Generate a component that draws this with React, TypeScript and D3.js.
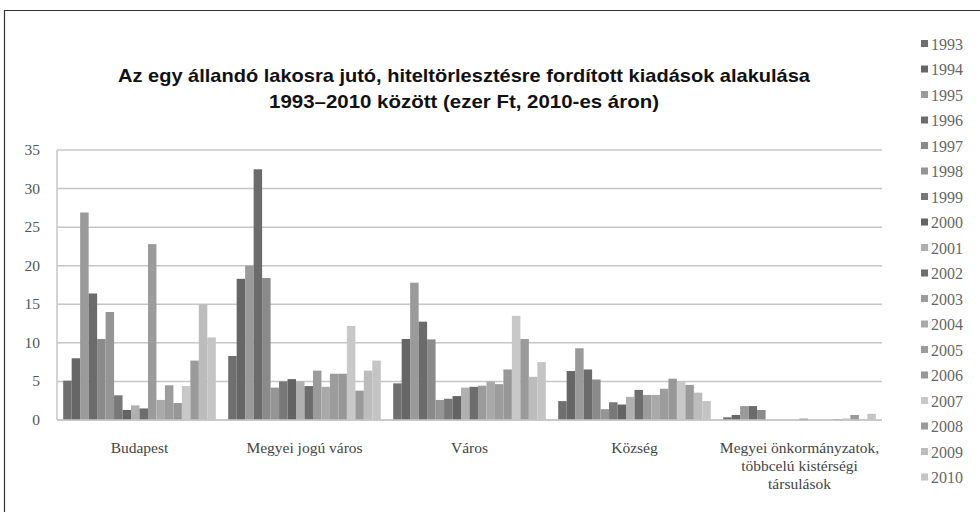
import * as d3 from "d3";
import React from "react";

const categories = [
  ["Budapest"],
  ["Megyei jogú város"],
  ["Város"],
  ["Község"],
  ["Megyei önkormányzatok,", "többcelú kistérségi", "társulások"],
];

const years = [
  "1993", "1994", "1995", "1996", "1997", "1998", "1999", "2000", "2001",
  "2002", "2003", "2004", "2005", "2006", "2007", "2008", "2009", "2010",
];

const yearColors = [
  "#6f6f6f", "#666666", "#9a9a9a", "#6b6b6b", "#8a8a8a", "#959595",
  "#787878", "#636363", "#b0b0b0", "#6d6d6d", "#9b9b9b", "#a9a9a9",
  "#9c9c9c", "#979797", "#c8c8c8", "#9a9a9a", "#bcbcbc", "#c4c4c4",
];

// values per category, one per year 1993..2010
const budapest = [5.1, 8.0, 26.9, 16.4, 10.5, 14.0, 3.2, 1.3, 1.9, 1.5, 22.8, 2.6, 4.5, 2.2, 4.4, 7.7, 15.0, 10.7];
const megyeiJogu = [8.3, 18.3, 20.0, 32.5, 18.4, 4.2, 5.0, 5.3, 5.0, 4.4, 6.4, 4.3, 6.0, 6.0, 12.2, 3.8, 6.4, 7.7];
const varos = [4.75, 10.5, 17.8, 12.75, 10.45, 2.6, 2.75, 3.1, 4.2, 4.3, 4.45, 5.0, 4.65, 6.55, 13.5, 10.5, 5.6, 7.5];
const kozseg = [2.45, 6.35, 9.3, 6.55, 5.25, 1.4, 2.3, 2.0, 3.0, 3.9, 3.25, 3.25, 4.05, 5.35, 5.0, 4.55, 3.55, 2.45];
const megyeiOnk = [0.35, 0.65, 1.8, 1.8, 1.3, 0, 0, 0, 0, 0.17, 0, 0, 0, 0.12, 0.2, 0.65, 0.05, 0.8];

const seriesByCategory = [budapest, megyeiJogu, varos, kozseg, megyeiOnk];
const yTicks = [0, 5, 10, 15, 20, 25, 30, 35];

const W = 980;
const H = 512;
const plot = { left: 57, right: 882, top: 150, bottom: 420 };

export default function App() {
  const x0 = d3
    .scaleBand<number>()
    .domain(d3.range(categories.length))
    .range([plot.left, plot.right]);
  const x1 = d3
    .scaleBand<string>()
    .domain(years)
    .range([0, x0.bandwidth()])
    .paddingOuter(0.73);
  const y = d3.scaleLinear().domain([0, 35]).range([plot.bottom, plot.top]);

  const serif = "'Liberation Serif', 'DejaVu Serif', serif";

  return (
    <svg
      width={W}
      height={H}
      style={{ position: "absolute", left: 0, top: 0, background: "#fff" }}
    >
      {/* frame */}
      <line x1={4} x2={W} y1={10.5} y2={10.5} stroke="#333" strokeWidth={1.2} />
      <line x1={4.5} x2={4.5} y1={10} y2={H} stroke="#333" strokeWidth={1.2} />

      {/* title */}
      <g fontFamily="'Liberation Sans Narrow', 'Liberation Sans', Arial, sans-serif" fontWeight="bold" fontSize={18.5} fill="#111" textAnchor="middle">
        <text x={464} y={82} textLength={692} lengthAdjust="spacingAndGlyphs">
          Az egy állandó lakosra jutó, hiteltörlesztésre fordított kiadások alakulása
        </text>
        <text x={464} y={108} textLength={390} lengthAdjust="spacingAndGlyphs">
          1993–2010 között (ezer Ft, 2010-es áron)
        </text>
      </g>

      {/* gridlines */}
      {yTicks.map((t) => (
        <g key={t}>
          <line
            x1={plot.left}
            x2={plot.right}
            y1={y(t)}
            y2={y(t)}
            stroke="#c6c6c6"
            strokeWidth={1.5}
          />
          <text
            x={40}
            y={y(t) + 5}
            textAnchor="end"
            fontFamily={serif}
            fontSize={15.5}
            fill="#555"
          >
            {t}
          </text>
        </g>
      ))}
      <line x1={plot.left} x2={plot.left} y1={plot.top} y2={plot.bottom} stroke="#c6c6c6" strokeWidth={1.5} />

      {/* bars */}
      {seriesByCategory.map((vals, ci) => (
        <g key={ci} transform={`translate(${x0(ci)},0)`}>
          {vals.map((v, yi) => (
            <rect
              key={yi}
              x={x1(years[yi])}
              y={y(v)}
              width={x1.bandwidth()}
              height={plot.bottom - y(v)}
              fill={yearColors[yi]}
            />
          ))}
        </g>
      ))}
      <line x1={plot.left} x2={plot.right} y1={plot.bottom} y2={plot.bottom} stroke="#c6c6c6" strokeWidth={1.5} />

      {/* category labels */}
      {categories.map((lines, ci) => (
        <text
          key={ci}
          textAnchor="middle"
          fontFamily={serif}
          fontSize={15.5}
          fill="#444"
        >
          {lines.map((l, li) => (
            <tspan key={li} x={x0(ci)! + x0.bandwidth() / 2} y={453 + li * 18}>
              {l}
            </tspan>
          ))}
        </text>
      ))}

      {/* legend */}
      {years.map((yr, i) => (
        <g key={yr} transform={`translate(921,${44 + i * 25.5})`}>
          <rect x={0} y={-4} width={7} height={7} fill={yearColors[i]} />
          <text x={10} y={5.5} fontFamily={serif} fontSize={16} fill="#666">
            {yr}
          </text>
        </g>
      ))}
    </svg>
  );
}
